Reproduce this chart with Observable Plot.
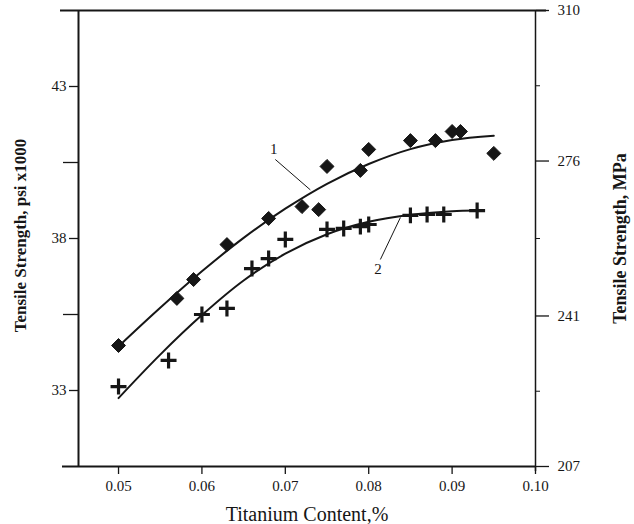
<!DOCTYPE html>
<html><head><meta charset="utf-8">
<script src="https://cdn.jsdelivr.net/npm/d3@7"></script>
<script src="https://cdn.jsdelivr.net/npm/@observablehq/plot@0.6"></script>
<style>body{margin:0;background:#fff}</style>
</head><body><div id="chart"></div>
<script>
// Series 1 (diamonds) and series 2 (plus signs): titanium content (%) vs tensile strength (ksi)
const titanium1 = [0.050,0.057,0.059,0.063,0.068,0.072,0.074,0.075,0.079,0.080,0.085,0.088,0.090,0.091,0.095];
const strength1 = [34.48,36.03,36.65,37.80,38.66,39.05,38.95,40.37,40.24,40.93,41.22,41.22,41.52,41.52,40.80];
const titanium2 = [0.050,0.056,0.060,0.063,0.066,0.068,0.070,0.075,0.077,0.079,0.080,0.085,0.087,0.089,0.093];
const strength2 = [33.13,33.99,35.50,35.70,37.01,37.34,37.97,38.30,38.33,38.39,38.46,38.76,38.79,38.79,38.92];
// Fitted curves
const fitX1 = [0.050,0.055,0.060,0.065,0.070,0.075,0.080,0.085,0.090,0.095];
const fitY1 = [34.45,35.72,36.92,38.02,38.98,39.80,40.45,40.94,41.24,41.38];
const fitX2 = [0.050,0.055,0.060,0.065,0.070,0.075,0.080,0.085,0.090,0.093];
const fitY2 = [32.75,34.18,35.48,36.62,37.50,38.14,38.55,38.78,38.90,38.92];
// Curve labels and leader lines
const curveLabels = ["1","2"];
const labelX = [0.0686, 0.0811];
const labelY = [40.95, 36.98];
const leaderX1 = [0.0688, 0.0814];
const leaderY1 = [40.60, 37.31];
const leaderX2 = [0.0730, 0.0838];
const leaderY2 = [39.60, 38.69];
// Axis ticks
const xTicks = [0.05,0.06,0.07,0.08,0.09,0.10];
const ksiLabelTicks = [33,38,43];
const ksiMinorTicks = [35.5,40.5];
const mpaLabelTicks = [207,241,276,310];
const mpaMinorTicks = [224,258.5,293];
const xDomain = [0.0452, 0.10];
const ksiDomain = [30.5, 45.5];
const mpaDomain = [207, 310];

const mpaToKsi = d3.scaleLinear().domain(mpaDomain).range(ksiDomain);
const pts1 = titanium1.map((x,i)=>({x, y: strength1[i]}));
const pts2 = titanium2.map((x,i)=>({x, y: strength2[i]}));
const fit1 = fitX1.map((x,i)=>({x, y: fitY1[i]}));
const fit2 = fitX2.map((x,i)=>({x, y: fitY2[i]}));
const labels = curveLabels.map((t,i)=>({t, x: labelX[i], y: labelY[i]}));
const leaders = curveLabels.map((t,i)=>({x1: leaderX1[i], y1: leaderY1[i], x2: leaderX2[i], y2: leaderY2[i]}));

const ink = "#161616";
const font = "Liberation Serif, Times New Roman, serif";

const chart = Plot.plot({
  width: 634, height: 524,
  marginLeft: 78, marginRight: 99, marginTop: 10, marginBottom: 58,
  style: {fontFamily: font, background: "#fff", color: ink},
  x: {domain: xDomain},
  y: {domain: ksiDomain},
  marks: [
    // frame
    Plot.ruleX([xDomain[0]], {stroke: ink, strokeWidth: 2}),
    Plot.ruleX([xDomain[1]], {stroke: ink, strokeWidth: 1.5, insetBottom: -5}),
    Plot.ruleY([ksiDomain[1]], {stroke: ink, strokeWidth: 2, insetLeft: -18, insetRight: -11}),
    Plot.ruleY([ksiDomain[0]], {stroke: ink, strokeWidth: 2, insetLeft: -16}),
    // axes
    Plot.axisX({ticks: xTicks, tickFormat: d3.format(".2f"), tickSize: 8, tickPadding: 6, fontSize: 15, label: null, strokeWidth: 1.3}),
    Plot.axisY({ticks: ksiLabelTicks, tickSize: 9, tickPadding: 3, fontSize: 15, label: null, strokeWidth: 1.3}),
    Plot.axisY({ticks: ksiMinorTicks, tickSize: 15, tickFormat: () => "", label: null, strokeWidth: 1.3}),
    Plot.axisY({anchor: "right", ticks: mpaLabelTicks.map(mpaToKsi), tickFormat: d => Math.round(mpaToKsi.invert(d)), tickSize: 13, tickPadding: 9, fontSize: 15, label: null, strokeWidth: 1.3}),
    Plot.axisY({anchor: "right", ticks: mpaMinorTicks.map(mpaToKsi), tickSize: 4, tickFormat: () => "", label: null, strokeWidth: 1}),
    // axis titles
    Plot.text(["Tensile Strength, psi x1000"], {frameAnchor: "left", textAnchor: "middle", dx: -58, dy: -3, rotate: -90, fontWeight: "bold", fontSize: 17, fill: ink}),
    Plot.text(["Tensile Strength, MPa"], {frameAnchor: "right", textAnchor: "middle", dx: 85, rotate: -90, fontWeight: "bold", fontSize: 18, fill: ink}),
    Plot.text(["Titanium Content,%"], {frameAnchor: "bottom", dy: 48, lineAnchor: "middle", fontSize: 20, fill: ink}),
    // curves
    Plot.line(fit1, {x: "x", y: "y", curve: "monotone-x", stroke: ink, strokeWidth: 2}),
    Plot.line(fit2, {x: "x", y: "y", curve: "monotone-x", stroke: ink, strokeWidth: 2}),
    // points
    Plot.dot(pts1, {x: "x", y: "y", symbol: "diamond2", r: 6.3, fill: ink, stroke: ink, strokeWidth: 1}),
    Plot.dot(pts2, {x: "x", y: "y", symbol: "plus", r: 5.2, stroke: ink, strokeWidth: 3.2}),
    // labels
    Plot.link(leaders, {x1: "x1", y1: "y1", x2: "x2", y2: "y2", stroke: ink, strokeWidth: 1}),
    Plot.text(labels, {x: "x", y: "y", text: "t", fontSize: 15, fill: ink})
  ]
});
document.getElementById("chart").appendChild(chart);
</script>
</body></html>
